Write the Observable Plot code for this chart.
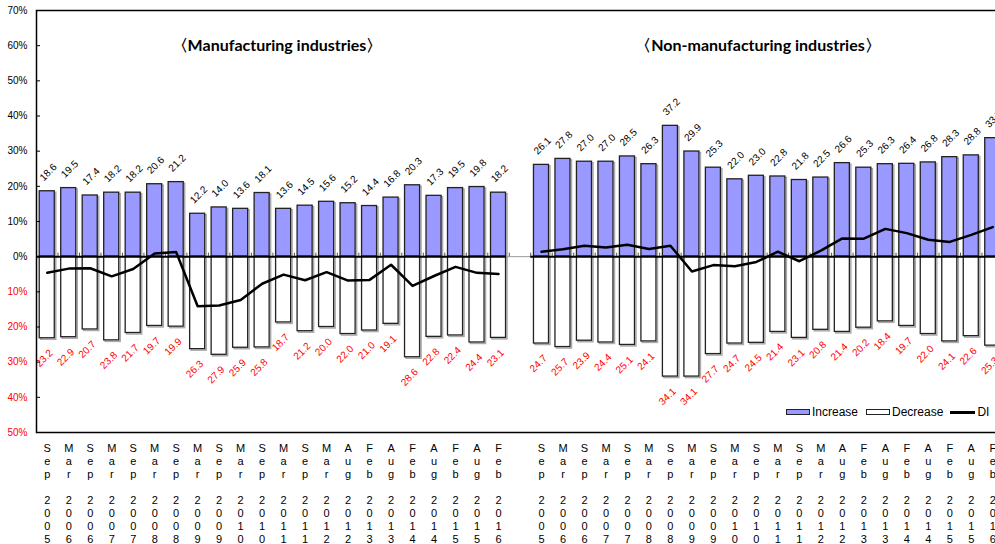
<!DOCTYPE html>
<html><head><meta charset="utf-8">
<script src="https://cdn.jsdelivr.net/npm/d3@7"></script>
<script src="https://cdn.jsdelivr.net/npm/@observablehq/plot@0.6"></script>
<style>
body{margin:0;overflow:hidden;background:#fff;font-family:"Liberation Sans",Arial,sans-serif;}
#wrap{position:relative;width:995px;height:544px;overflow:hidden;}
.title{position:absolute;top:35px;font-family:Lato,"Open Sans",sans-serif;font-weight:bold;font-size:16px;transform:translateX(-50%);white-space:nowrap;line-height:20px;color:#000;}
.legend{position:absolute;top:404px;left:786px;font-size:12px;display:flex;align-items:center;height:16px;color:#000;}
.sw{display:inline-block;box-sizing:border-box;width:24px;height:6px;border:1.5px solid #222;margin-right:2px;}
.ln{display:inline-block;width:25px;height:3px;background:#000;margin-right:2px;}
svg.plotchart{max-width:none !important;}
</style></head>
<body><div id="wrap">
<div class="title" style="left:277px">〈Manufacturing industries〉</div>
<div class="title" style="left:758px">〈Non-manufacturing industries〉</div>
<div class="legend"><span class="sw" style="background:#9999ff"></span><span style="margin-right:8px">Increase</span><span class="sw" style="background:#fff"></span><span style="margin-right:7px">Decrease</span><span class="ln"></span><span>DI</span></div>
</div>
<script>
const periods = ["Sep 2005","Mar 2006","Sep 2006","Mar 2007","Sep 2007","Mar 2008","Sep 2008","Mar 2009","Sep 2009","Mar 2010","Sep 2010","Mar 2011","Sep 2011","Mar 2012","Aug 2012","Feb 2013","Aug 2013","Feb 2014","Aug 2014","Feb 2015","Aug 2015","Feb 2016"];
const mfgIncrease = [18.6,19.5,17.4,18.2,18.2,20.6,21.2,12.2,14.0,13.6,18.1,13.6,14.5,15.6,15.2,14.4,16.8,20.3,17.3,19.5,19.8,18.2];
const mfgDecrease = [23.2,22.9,20.7,23.8,21.7,19.7,19.9,26.3,27.9,25.9,25.8,18.7,21.2,20.0,22.0,21.0,19.1,28.6,22.8,22.4,24.4,23.1];
const mfgDI = [-4.6,-3.4,-3.3,-5.6,-3.5,0.9,1.3,-14.1,-13.9,-12.3,-7.7,-5.1,-6.7,-4.4,-6.8,-6.6,-2.3,-8.3,-5.5,-2.9,-4.6,-4.9];
const nonIncrease = [26.1,27.8,27.0,27.0,28.5,26.3,37.2,29.9,25.3,22.0,23.0,22.8,21.8,22.5,26.6,25.3,26.3,26.4,26.8,28.3,28.8,33.7];
const nonDecrease = [24.7,25.7,23.9,24.4,25.1,24.1,34.1,34.1,27.7,24.7,24.5,21.4,23.1,20.8,21.4,20.2,18.4,19.7,22.0,24.1,22.6,25.3];
const nonDI = [1.4,2.1,3.1,2.6,3.4,2.2,3.1,-4.2,-2.4,-2.7,-1.5,1.4,-1.3,1.7,5.2,5.1,7.9,6.7,4.8,4.2,6.2,8.4];
const yTicksUp = [0,10,20,30,40,50,60,70];
const yTicksDown = [-10,-20,-30,-40,-50];

const rows = [];
periods.forEach((p,i)=>rows.push({key:"M"+i, panel:"M", period:p, inc:mfgIncrease[i], dec:mfgDecrease[i], di:mfgDI[i]}));
periods.forEach((p,i)=>rows.push({key:"N"+i, panel:"N", period:p, inc:nonIncrease[i], dec:nonDecrease[i], di:nonDI[i]}));
const keys = [...periods.map((p,i)=>"M"+i), "gap", ...periods.map((p,i)=>"N"+i)];
const labelOf = new Map(rows.map(r=>[r.key, r.period]));
const fmtX = k => {
  if (!labelOf.has(k)) return "";
  const [m,y] = labelOf.get(k).split(" ");
  return [...m, "\u00a0", ...y].join("\n");
};

const W = 1003, mL = 36, mR = 0;
const step = (W - mL - mR) / keys.length;
const panels = [{a:"M0", b:"M21"}, {a:"N0", b:"N21"}];

const chart = Plot.plot({
  width: W, height: 544,
  marginLeft: mL, marginRight: mR, marginTop: 10, marginBottom: 112,
  className: "plotchart",
  style: {fontFamily: "'Liberation Sans', Arial, sans-serif", fontSize: "10px", background: "transparent", overflow: "visible", maxWidth: "none"},
  x: {type: "band", domain: keys, paddingInner: 0.3, paddingOuter: 0.15, round: false, axis: null},
  y: {domain: [-50, 70], axis: null},
  marks: [
    Plot.ruleY([0], {stroke: "#999", strokeWidth: 1}),
    Plot.ruleX(keys, {x: d => d, y1: 0, y2: 1, dx: -step/2, stroke: "#555", strokeWidth: 1}),
    Plot.barY(rows, {x: "key", y1: 0, y2: "inc", fill: "none", stroke: "#aaa", strokeWidth: 1.5, dx: 1.5, dy: 1.5}),
    Plot.barY(rows, {x: "key", y1: 0, y2: d => -d.dec, fill: "none", stroke: "#aaa", strokeWidth: 1.5, dx: 1.5, dy: 1.5}),
    Plot.barY(rows, {x: "key", y1: 0, y2: "inc", fill: "#9999ff", stroke: "#222", strokeWidth: 1.3}),
    Plot.barY(rows, {x: "key", y1: 0, y2: d => -d.dec, fill: "#fff", stroke: "#222", strokeWidth: 1.3}),
    Plot.ruleY(panels, {y: 0, x1: "a", x2: "b", stroke: "#000", strokeWidth: 2, insetLeft: -step*0.15}),
    Plot.line(rows, {x: "key", y: "di", z: "panel", stroke: "#000", strokeWidth: 2.5}),
    Plot.text(rows, {x: "key", y: "inc", text: d => d.inc.toFixed(1), rotate: -45, dy: -19, dx: 1, fill: "#000", fontSize: 10}),
    Plot.text(rows, {x: "key", y: d => -d.dec, text: d => d.dec.toFixed(1), rotate: -45, dy: 20, dx: -3, fill: "red", fontSize: 10}),
    Plot.frame({stroke: "#000", strokeWidth: 1.5}),
    Plot.tickY([...yTicksUp, ...yTicksDown], {y: d => d, stroke: "#000", strokeWidth: 1, insetRight: W - mL - mR - 4}),
    Plot.axisY(yTicksUp, {anchor: "left", tickSize: 0, tickPadding: 9, tickFormat: d => d + "%", fill: "#000", fontSize: 10, label: null}),
    Plot.axisY(yTicksDown, {anchor: "left", tickSize: 0, tickPadding: 9, tickFormat: d => Math.abs(d) + "%", fill: "red", fontSize: 10, label: null}),
    Plot.axisX(keys, {anchor: "bottom", tickSize: 0, tickPadding: 10, tickFormat: fmtX, fontSize: 11, lineHeight: 1.19, fill: "#000", label: null})
  ]
});
chart.style.position = "absolute";
chart.style.left = "0px";
chart.style.top = "0px";
chart.style.maxWidth = "none";
document.getElementById("wrap").prepend(chart);
</script>
</body></html>
